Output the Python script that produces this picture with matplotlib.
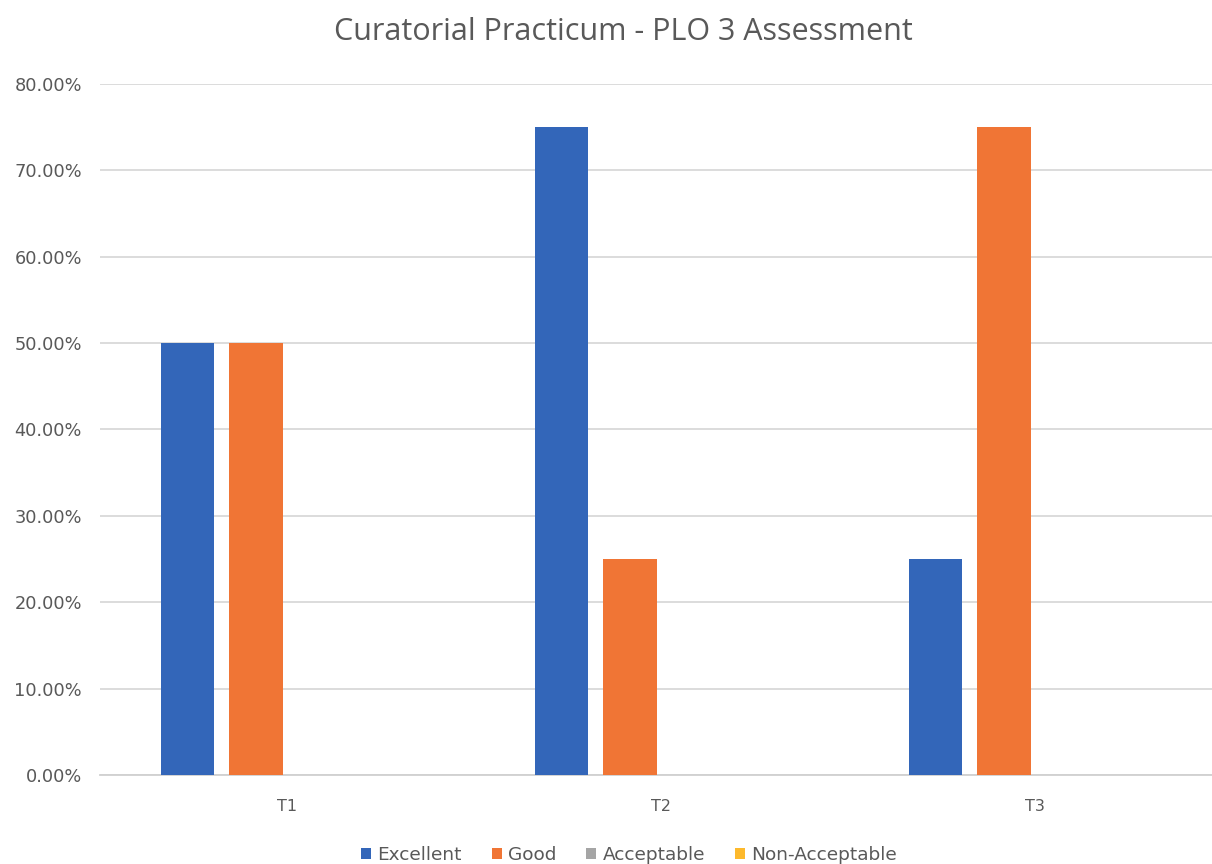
from matplotlib import pyplot as plt
from matplotlib.ticker import PercentFormatter
import numpy as np

terms = ["T1", "T2", "T3"]
levels = ["Excellent", "Good", "Acceptable", "Non-Acceptable"]
excellent = [0.50, 0.75, 0.25]
good = [0.50, 0.25, 0.75]
acceptable = [0.0, 0.0, 0.0]
non_acceptable = [0.0, 0.0, 0.0]
yticks = [0.0, 0.1, 0.2, 0.3, 0.4, 0.5, 0.6, 0.7, 0.8]

colors = ["#3366b9", "#f07535", "#a5a5a5", "#fdb92c"]
series = [excellent, good, acceptable, non_acceptable]

plt.rcParams['font.family'] = ['Open Sans', 'DejaVu Sans']

fig = plt.figure()
fig.set_dpi(100)
fig.set_size_inches(12.12, 8.64)
ax = fig.add_axes([100 / 1212, 0.103, 1122 / 1212, 0.8])

x = np.arange(len(terms))
step = 0.184
width = 0.142
for i, (vals, name, col) in enumerate(zip(series, levels, colors)):
    ax.bar(x + (i - 1.45) * step, vals, width, color=col, label=name, zorder=3)

ax.set_xlim(-0.5, 2.5)
ax.set_ylim(0, 0.8)
ax.set_yticks(yticks)
ax.yaxis.set_major_formatter(PercentFormatter(1.0, decimals=2))
ax.set_xticks(x)
ax.set_xticklabels(terms)
ax.grid(axis='y', color='#d9d9d9', linewidth=1.3, zorder=0)
for s in ['top', 'right', 'left']:
    ax.spines[s].set_visible(False)
ax.spines['bottom'].set_color('#d0d0d0')
ax.spines['bottom'].set_linewidth(1.3)
ax.tick_params(axis='both', length=0, labelcolor='#595959')
for lbl in ax.get_yticklabels():
    lbl.set_fontfamily('DejaVu Sans')
    lbl.set_fontsize(12.8)
for lbl in ax.get_xticklabels():
    lbl.set_fontfamily('DejaVu Sans')
    lbl.set_fontsize(11.5)
ax.tick_params(axis='y', pad=13)
ax.tick_params(axis='x', pad=17)

fig.text(0.5145, 0.963, "Curatorial Practicum - PLO 3 Assessment",
         ha='center', va='center', fontsize=22, color='#595959')

fig.legend(loc='center', bbox_to_anchor=(0.519, 0.01), ncol=4, frameon=False,
           prop={'family': 'DejaVu Sans', 'size': 13.3}, labelcolor='#595959',
           handlelength=0.55, handleheight=0.55, handletextpad=0.35,
           columnspacing=1.6)

plt.savefig("out.png")
